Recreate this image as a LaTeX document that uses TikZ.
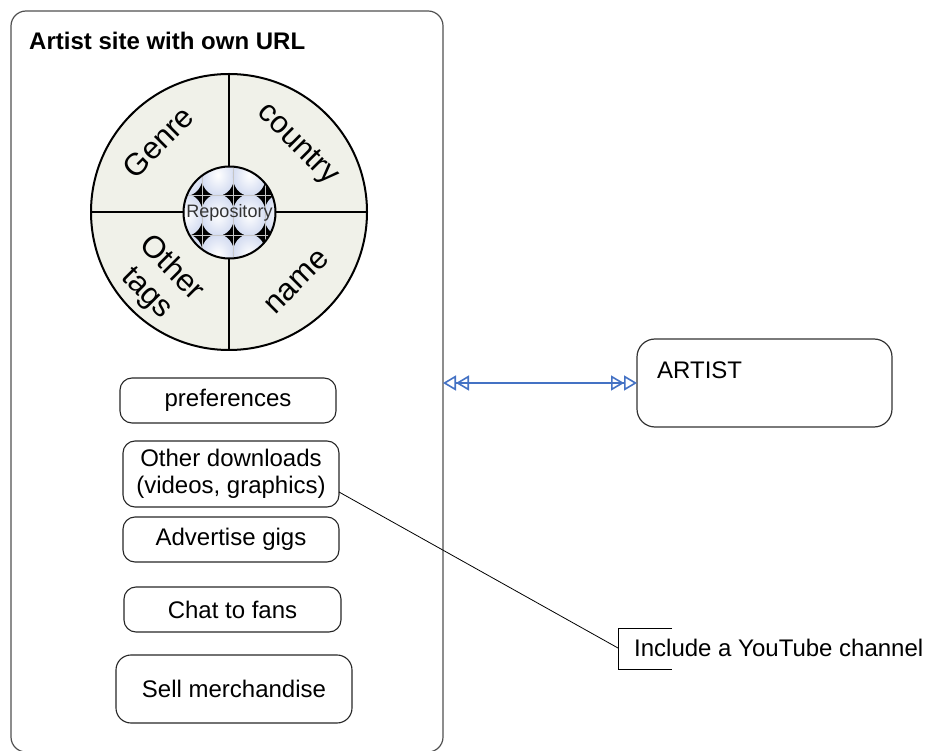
\documentclass[tikz,border=0pt]{standalone}
\usepackage{fontspec}
\setmainfont{Liberation Sans}
\usetikzlibrary{arrows.meta,calc}
\definecolor{diskfill}{RGB}{240,241,233}
\definecolor{tileblue}{RGB}{212,220,241}
\definecolor{linkblue}{RGB}{68,114,196}
\definecolor{framegray}{RGB}{80,80,80}
\begin{document}
\begin{tikzpicture}[x=1pt,y=-1pt,
  txt/.style={font=\fontsize{24pt}{27.5pt}\selectfont},
  sitebox/.style={draw=framegray,line width=1.2pt,rounded corners=15pt,inner sep=0pt,outer sep=0pt},
  itembox/.style={draw=black!85,line width=1.1pt,rounded corners=12pt,inner sep=0pt,outer sep=0pt,txt,align=center},
  sector/.style={font=\fontsize{31pt}{35pt}\selectfont,align=center,inner sep=0pt},
  dtip/.tip={Triangle[open,length=13pt,width=15pt,sep=0pt]},
  link/.style={draw=linkblue,line width=1.6pt,{dtip[]dtip[]}-{dtip[]dtip[]}},
  callout/.style={draw=black,line width=0.8pt}]
\useasboundingbox (0,0) rectangle (927,751);

% outer frame of the artist site
\node[sitebox,minimum width=432pt,minimum height=741pt] (site) at (227,381.5) {};
\node[anchor=base west,font=\bfseries\fontsize{24pt}{27.5pt}\selectfont,inner sep=0pt] (title) at (29,50) {Artist site with own URL};

% tag disk split in four quadrants
\node[circle,draw=black,fill=diskfill,line width=2pt,minimum size=276pt,inner sep=0pt] (disk) at (229,212) {};
\draw[line width=2pt] (disk.north) -- (disk.south);
\draw[line width=2pt] (disk.west) -- (disk.east);

% repository hub with bubble tiles
\begin{scope}
  \clip (229.5,212.5) circle (46);
  \fill[black] (229.5,212.5) circle (46);
  \foreach \cx in {186.25,217.75,249.25,280.75}
    \foreach \cy in {175,215,255}
      \shade[inner color=white,outer color=tileblue] (\cx,\cy) ellipse (16.8 and 20.8);
  \foreach \gx in {202,233.5,265}
    \draw[gray!45,line width=0.6pt] (\gx,160) -- (\gx,265);
  \foreach \gy in {195,235}
    \draw[gray!45,line width=0.6pt] (180,\gy) -- (280,\gy);
\end{scope}
\node[circle,draw=black,line width=2pt,minimum size=92pt,inner sep=0pt,
      font=\fontsize{18pt}{20pt}\selectfont,text=black!80] (repo) at (229.5,212.5) {Repository};

\node[sector,rotate=45] (genre) at (158,142) {Genre};
\node[sector,rotate=-45] (country) at (297,145) {country};
\node[sector,rotate=-45] (other) at (159,281) {Other\\tags};
\node[sector,rotate=45] (name) at (297,282) {name};

% feature boxes
\node[itembox,minimum width=216pt,minimum height=45pt] (pref) at (228,400.5) {preferences};
\node[itembox,minimum width=216pt,minimum height=66pt] (odl) at (231,474) {Other downloads\\(videos, graphics)};
\node[itembox,minimum width=216pt,minimum height=45pt] (gigs) at (231,539.5) {Advertise gigs};
\node[itembox,minimum width=217pt,minimum height=45pt] (chat) at (232.5,609.5) {Chat to fans};
\node[itembox,minimum width=236pt,minimum height=68pt,rounded corners=15pt] (sell) at (234,689) {Sell merchandise};

% artist box
\node[sitebox,draw=black!80,minimum width=255pt,minimum height=88pt,rounded corners=18pt] (artist) at (764.5,383) {};
\node[txt,anchor=base west,inner sep=0pt] (artistlbl) at (657,379) {ARTIST};

\draw[link] (site.east |- artist.west) -- (artist.west);

% YouTube annotation
\node[txt,anchor=base west,inner sep=0pt] (yt) at (634,656) {Include a YouTube channel};
\coordinate (ytstart) at ([yshift=-18pt]odl.east);
\coordinate (ytmid) at (618,648);
\coordinate (yttop) at (672,628);
\coordinate (ytbot) at (672,669);
\draw[callout] (ytstart) -- (ytmid);
\draw[callout] (yttop) -- (ytmid |- yttop) -- (ytmid |- ytbot) -- (ytbot);
\end{tikzpicture}
\end{document}
